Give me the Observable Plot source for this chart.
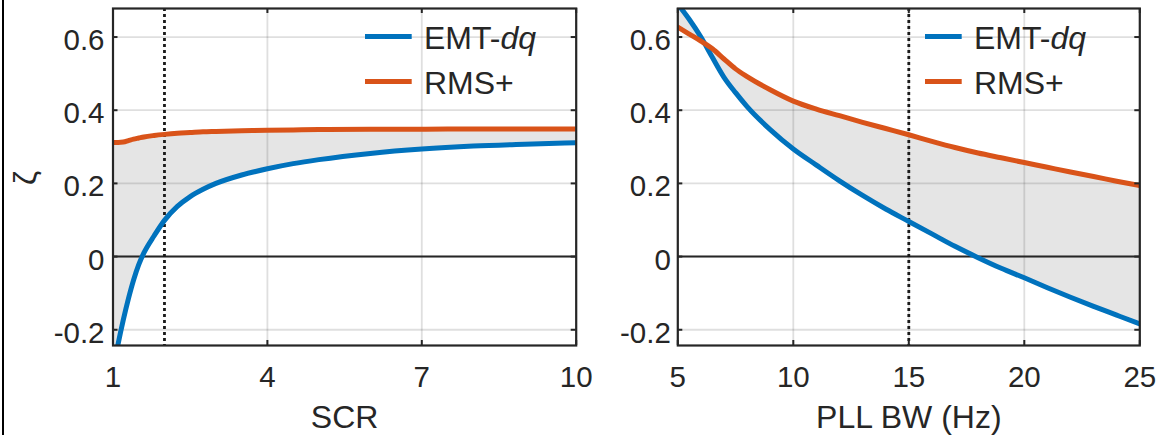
<!DOCTYPE html>
<html><head><meta charset="utf-8">
<script src="https://cdn.jsdelivr.net/npm/d3@7"></script>
<script src="https://cdn.jsdelivr.net/npm/@observablehq/plot@0.6"></script>
<style>
html,body{margin:0;padding:0;background:#fff;}
#wrap{position:relative;width:1160px;height:435px;overflow:hidden;font-family:"Liberation Sans",Arial,Helvetica,sans-serif;}
.panel{position:absolute;top:0;}
.panel svg{background:transparent;overflow:visible;}
#border{position:absolute;left:2px;top:0;width:2px;height:435px;background:#000;}
#legend{position:absolute;left:0;top:0;pointer-events:none;}
#ylab{position:absolute;left:25px;top:178px;width:0;height:0;}
#ylab span{position:absolute;left:0;top:0;display:block;font-size:32px;line-height:32px;color:#262626;
  transform:translate(-50%,-50%) rotate(-90deg);transform-origin:center center;white-space:nowrap;}
</style></head><body>
<div id="wrap"><div id="border"></div></div>
<script>
// ---- data ----
const scr    = [1, 1.1, 1.2, 1.3, 1.4, 1.5, 1.6, 1.8, 2, 2.25, 2.5, 2.75, 3, 3.5, 4, 4.5, 5, 6, 7, 8, 9, 10];
const scrEMT = [-0.31, -0.238, -0.173, -0.115, -0.064, -0.022, 0.010, 0.057, 0.099, 0.137, 0.164, 0.184, 0.200, 0.223, 0.240, 0.254, 0.265, 0.282, 0.294, 0.302, 0.307, 0.311];
const scrRMS = [0.312, 0.312, 0.313, 0.317, 0.321, 0.324, 0.327, 0.331, 0.334, 0.337, 0.339, 0.341, 0.342, 0.344, 0.345, 0.346, 0.347, 0.348, 0.348, 0.349, 0.349, 0.349];

const bw    = [5, 5.5, 6, 6.5, 7, 7.5, 8, 9, 10, 11, 12, 13, 14, 15, 16, 17, 18, 19, 20, 21, 22, 23, 24, 25];
const bwEMT = [0.69, 0.648, 0.600, 0.544, 0.490, 0.448, 0.410, 0.347, 0.294, 0.250, 0.207, 0.167, 0.130, 0.096, 0.062, 0.028, -0.003, -0.032, -0.058, -0.085, -0.111, -0.136, -0.160, -0.184];
const bwRMS = [0.627, 0.608, 0.589, 0.568, 0.540, 0.513, 0.492, 0.456, 0.425, 0.403, 0.385, 0.367, 0.350, 0.333, 0.315, 0.298, 0.283, 0.270, 0.257, 0.244, 0.231, 0.219, 0.206, 0.194];

const scrTicks = [1, 4, 7, 10];
const bwTicks = [5, 10, 15, 20, 25];
const yTicks = [-0.2, 0, 0.2, 0.4, 0.6];
const yTickLabels = ["-0.2", "0", "0.2", "0.4", "0.6"];
const seriesNames = ["EMT-", "RMS+"];
const colors = ["#0072BD", "#D95319"];
const scrMarker = [2];
const bwMarker = [15];
const yDomain = [-0.243, 0.678];
const yLabelText = "ζ";

const INK = "#262626";
const FONT = "Liberation Sans, Arial, Helvetica, sans-serif";

function panel({x, emt, rms, xTicks, xDomain, marker, xLabel, width, marginLeft, marginRight, tickPad}) {
  const H = 435, mt = 8, mb = 90;
  const fw = width - marginLeft - marginRight, fh = H - mt - mb;
  const rows = x.map((v, i) => ({x: v, emt: emt[i], rms: rms[i]}));
  const tk = 5;
  const marks = [
    Plot.areaY(rows, {x: "x", y1: "emt", y2: "rms", fill: "#e5e5e5", clip: true, curve: "monotone-x"}),
    Plot.ruleX(xTicks, {x: d => d, stroke: INK, strokeOpacity: 0.15, strokeWidth: 1.8}),
    Plot.ruleY(yTicks, {y: d => d, stroke: INK, strokeOpacity: 0.15, strokeWidth: 1.8}),
    Plot.ruleY([0], {y: d => d, stroke: INK, strokeWidth: 2}),
    Plot.ruleX(marker, {x: d => d, stroke: "#1a1a1a", strokeWidth: 2.8, strokeDasharray: "3,3"}),
    Plot.lineY(rows, {x: "x", y: "emt", stroke: colors[0], strokeWidth: 5, clip: true, curve: "monotone-x"}),
    Plot.lineY(rows, {x: "x", y: "rms", stroke: colors[1], strokeWidth: 5, clip: true, curve: "monotone-x"}),
    Plot.frame({stroke: INK, strokeWidth: 2.2}),
    Plot.tickX(xTicks, {x: d => d, insetTop: fh - tk, stroke: INK, strokeWidth: 2}),
    Plot.tickX(xTicks, {x: d => d, insetBottom: fh - tk, stroke: INK, strokeWidth: 2}),
    Plot.tickY(yTicks, {y: d => d, insetRight: fw - tk, stroke: INK, strokeWidth: 2}),
    Plot.tickY(yTicks, {y: d => d, insetLeft: fw - tk, stroke: INK, strokeWidth: 2}),
    Plot.axisX(xTicks, {tickSize: 0, tickPadding: 20.5, fontSize: 29.5, label: null, fill: INK, tickFormat: d => String(d)}),
    Plot.axisY(yTicks, {tickSize: 0, tickPadding: tickPad, fontSize: 29.5, label: null, fill: INK, dy: 3.5,
      tickFormat: d => yTickLabels[yTicks.indexOf(d)]}),
    Plot.text([xLabel], {text: d => d, frameAnchor: "bottom", lineAnchor: "top", dy: 60, fontSize: 32, fill: INK})
  ];
  return Plot.plot({
    width, height: H,
    marginLeft, marginRight, marginTop: mt, marginBottom: mb,
    style: {fontFamily: FONT, background: "transparent", overflow: "visible", color: INK},
    x: {domain: xDomain},
    y: {domain: yDomain},
    marks
  });
}

const wrap = document.getElementById("wrap");

const p1 = panel({x: scr, emt: scrEMT, rms: scrRMS, xTicks: scrTicks, xDomain: [1, 10], marker: scrMarker,
  xLabel: "SCR", width: 600, marginLeft: 112.5, marginRight: 24.3, tickPad: 8.5});
const d1 = document.createElement("div");
d1.className = "panel"; d1.style.left = "0px"; d1.style.width = "600px";
d1.appendChild(p1); wrap.appendChild(d1);

const p2 = panel({x: bw, emt: bwEMT, rms: bwRMS, xTicks: bwTicks, xDomain: [5, 25], marker: bwMarker,
  xLabel: "PLL BW (Hz)", width: 600, marginLeft: 117.3, marginRight: 20.7, tickPad: 7});
const d2 = document.createElement("div");
d2.className = "panel"; d2.style.left = "560px"; d2.style.width = "600px";
d2.appendChild(p2); wrap.appendChild(d2);

// ---- overlay: legends (transparent, no box) ----
const svgNS = "http://www.w3.org/2000/svg";
const leg = document.createElementNS(svgNS, "svg");
leg.setAttribute("id", "legend");
leg.setAttribute("width", 1160); leg.setAttribute("height", 435);
wrap.appendChild(leg);
function legend(x0, x1, tx) {
  const rowsY = [36.5, 81.5];
  seriesNames.forEach((name, i) => {
    const l = document.createElementNS(svgNS, "line");
    l.setAttribute("x1", x0); l.setAttribute("x2", x1);
    l.setAttribute("y1", rowsY[i]); l.setAttribute("y2", rowsY[i]);
    l.setAttribute("stroke", colors[i]); l.setAttribute("stroke-width", 5);
    leg.appendChild(l);
    const t = document.createElementNS(svgNS, "text");
    t.setAttribute("x", tx); t.setAttribute("y", rowsY[i] + 12.8);
    t.setAttribute("font-size", 32); t.setAttribute("fill", INK);
    t.setAttribute("font-family", FONT);
    t.textContent = name;
    if (i === 0) {
      const s = document.createElementNS(svgNS, "tspan");
      s.setAttribute("font-style", "italic");
      s.textContent = "dq";
      t.appendChild(s);
    }
    leg.appendChild(t);
  });
}
legend(365, 411.7, 424);
legend(925, 961.7, 974);

// rotated y-axis label
const ylab = document.createElement("div");
ylab.id = "ylab";
const ys = document.createElement("span");
ys.textContent = yLabelText;
ylab.appendChild(ys);
wrap.appendChild(ylab);
</script>
</body></html>
